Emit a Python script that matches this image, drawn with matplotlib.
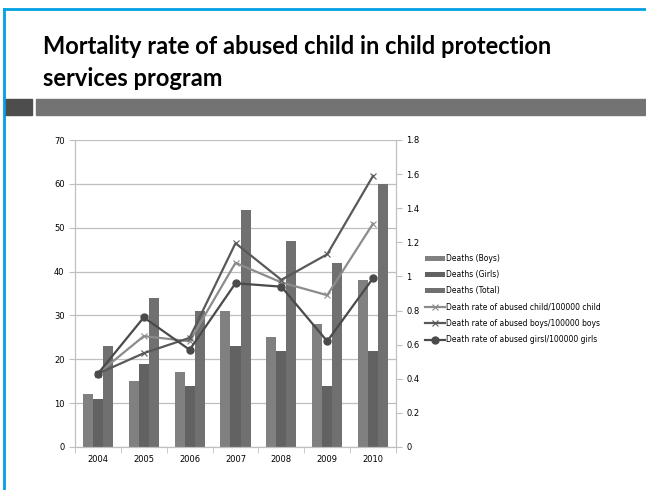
import numpy as np
import matplotlib.pyplot as plt
from matplotlib.patches import Rectangle
from matplotlib.lines import Line2D

years = ["2004", "2005", "2006", "2007", "2008", "2009", "2010"]
deaths_boys = [12, 15, 17, 31, 25, 28, 38]
deaths_girls = [11, 19, 14, 23, 22, 14, 22]
deaths_total = [23, 34, 31, 54, 47, 42, 60]
rate_child = [0.43, 0.65, 0.62, 1.08, 0.965, 0.89, 1.31]
rate_boys = [0.43, 0.55, 0.64, 1.195, 0.98, 1.13, 1.59]
rate_girls = [0.43, 0.76, 0.57, 0.96, 0.94, 0.62, 0.99]

fig = plt.figure(figsize=(6.46, 4.9), dpi=100)
W, H = 646, 490

# slide frame and header decoration
fig.add_artist(Line2D([4 / W, 4 / W], [0, 1 - 9 / H], color="#00a0e3", lw=2))
fig.add_artist(Line2D([4 / W, 1], [1 - 9 / H, 1 - 9 / H], color="#00a0e3", lw=2))
fig.add_artist(Rectangle((5 / W, 1 - 115 / H), 27 / W, 16 / H, color="#4d4d4d"))
fig.add_artist(Rectangle((36 / W, 1 - 115 / H), 1, 16 / H, color="#737373"))

fig.text(43 / W, 1 - 47 / H, "Mortality rate of abused child in child protection",
         fontsize=17, fontweight="bold", family="Lato", va="center")
fig.text(43 / W, 1 - 78 / H, "services program",
         fontsize=17, fontweight="bold", family="Lato", va="center")

ax = fig.add_axes([75 / W, 1 - 447 / H, 321 / W, 307 / H])
ax2 = ax.twinx()

x = np.arange(len(years))
w = 0.22
ax.bar(x - w, deaths_boys, w, color="#808080", label="Deaths (Boys)", zorder=2)
ax.bar(x, deaths_girls, w, color="#626262", label="Deaths (Girls)", zorder=2)
ax.bar(x + w, deaths_total, w, color="#707070", label="Deaths (Total)", zorder=2)

ax2.plot(x, rate_child, color="#8c8c8c", lw=1.6, marker="x", ms=5, mew=0.8,
         label="Death rate of abused child/100000 child")
ax2.plot(x, rate_boys, color="#595959", lw=1.6, marker="x", ms=5, mew=0.8,
         label="Death rate of abused boys/100000 boys")
ax2.plot(x, rate_girls, color="#4a4a4a", lw=1.6, marker="o", ms=5,
         label="Death rate of abused girsl/100000 girls")

ax.set_xlim(-0.5, len(years) - 0.5)
ax.set_ylim(0, 70)
ax.set_yticks(range(0, 71, 10))
ax2.set_ylim(0, 1.8)
ax2.set_yticks(np.arange(0, 1.81, 0.2))
ax2.set_yticklabels(["0", "0.2", "0.4", "0.6", "0.8", "1", "1.2", "1.4", "1.6", "1.8"])

ax.set_xticks(x)
ax.set_xticklabels(years)
ax.set_xticks(np.arange(-0.5, len(years)), minor=True)
ax.tick_params(axis="x", which="major", length=0, labelsize=6, pad=6)
ax.tick_params(axis="x", which="minor", length=4, color="#c0c0c0")
ax.tick_params(axis="y", labelsize=6, length=4, color="#c0c0c0")
ax2.tick_params(axis="y", labelsize=6, length=4, color="#c0c0c0")

ax.grid(axis="y", color="#bfbfbf", lw=0.9, zorder=0)
ax.set_axisbelow(True)
for a in (ax, ax2):
    for s in a.spines.values():
        s.set_visible(False)
    for side in ("left", "right", "bottom"):
        a.spines[side].set_visible(True)
        a.spines[side].set_color("#c0c0c0")

h1, l1 = ax.get_legend_handles_labels()
h2, l2 = ax2.get_legend_handles_labels()
fig.legend(h1 + h2, l1 + l2, loc="center left", bbox_to_anchor=(425 / W, 1 - 299 / H),
           frameon=False, fontsize=5.5, handlelength=2.6, handleheight=0.6,
           labelspacing=0.95, handletextpad=0.2, borderpad=0, borderaxespad=0)

fig.savefig("out.png", dpi=100)
